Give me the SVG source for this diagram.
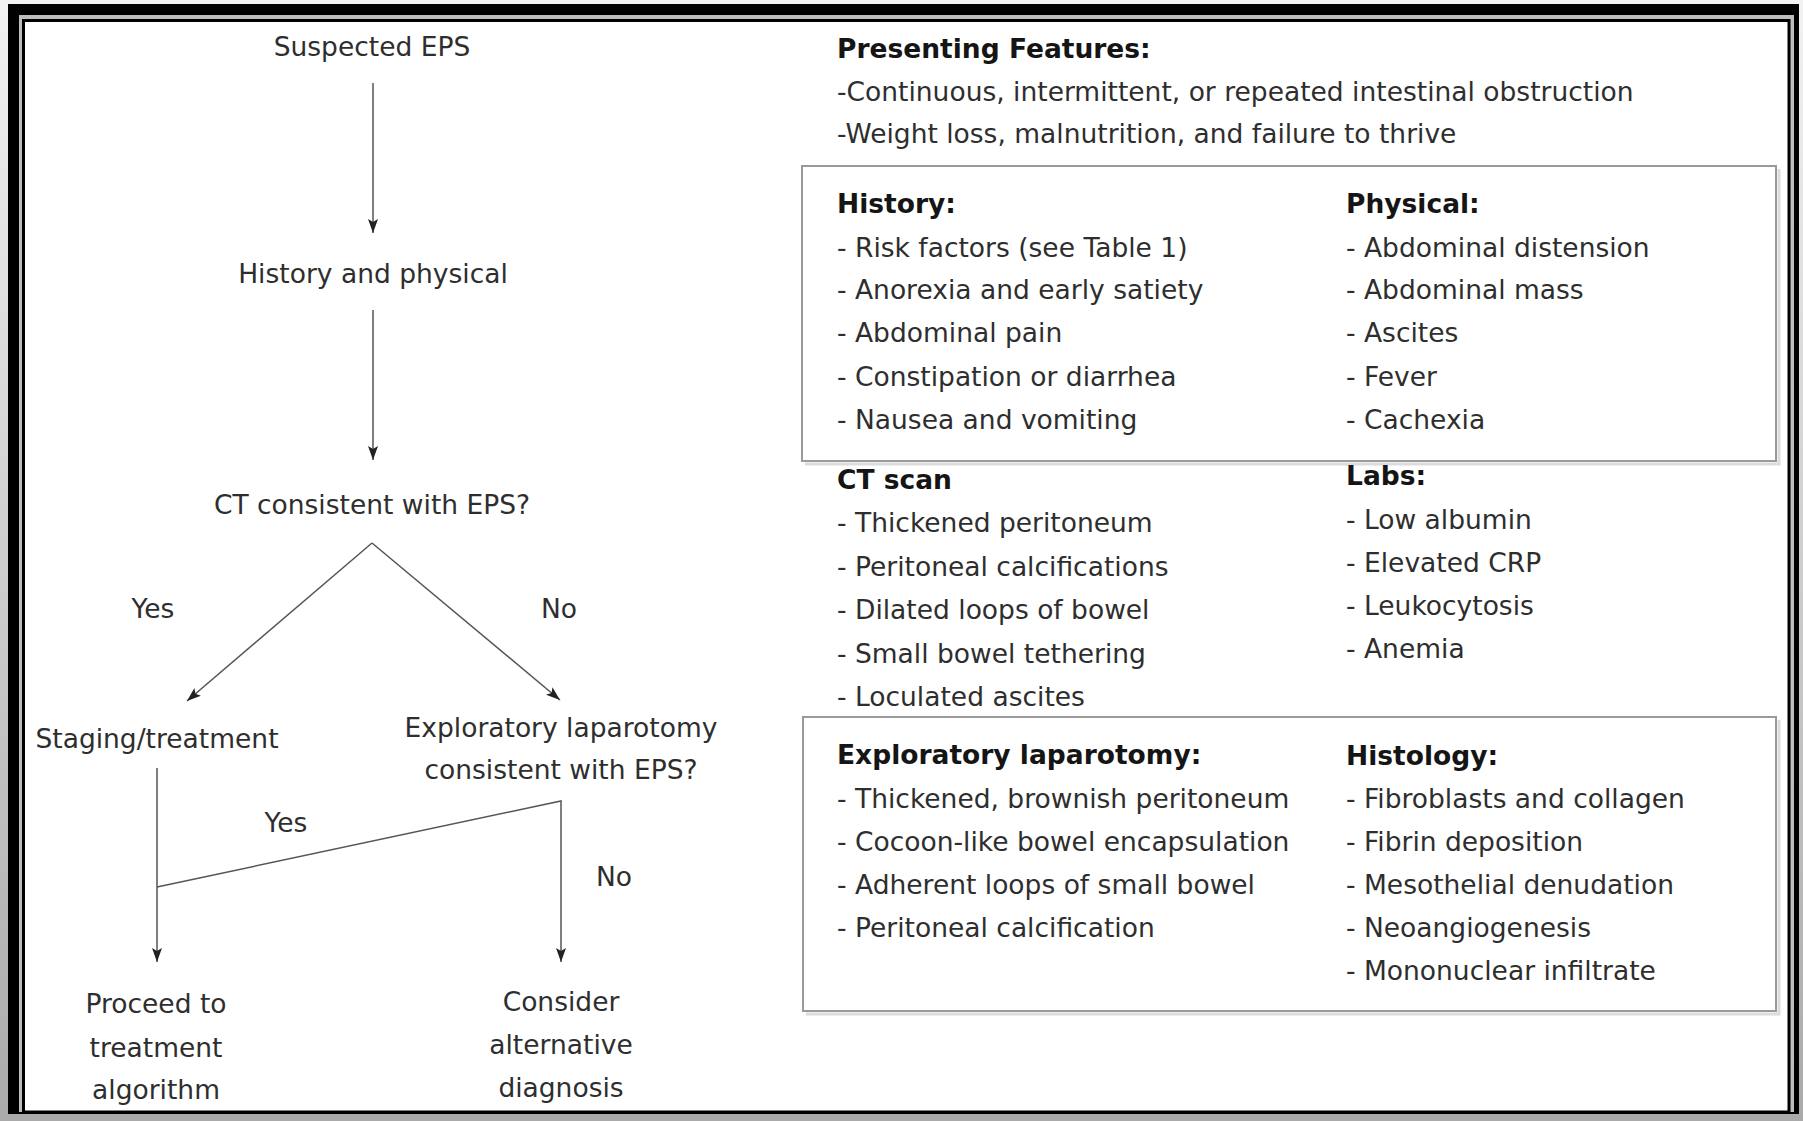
<svg xmlns="http://www.w3.org/2000/svg" width="1803" height="1121" viewBox="0 0 1803 1121">
<defs>
<linearGradient id="bg" x1="0" y1="0" x2="0" y2="1">
<stop offset="0" stop-color="#f2f2f2"/>
<stop offset="1" stop-color="#aaaaaa"/>
</linearGradient>
<marker id="arr" viewBox="0 0 14 10" refX="14" refY="5" markerWidth="14" markerHeight="10" markerUnits="userSpaceOnUse" orient="auto">
<path d="M0,0 L14,5 L0,10 L3,5 z" fill="#222"/>
</marker>
<style>
text{font-family:"DejaVu Sans","Liberation Sans",sans-serif;font-size:26.5px;fill:#2e2e2e}
.b{font-weight:bold;fill:#151515}
.c{text-anchor:middle}
.ln{stroke:#555;stroke-width:1.5;fill:none}
.box{fill:none;stroke:#9a9a9a;stroke-width:2}
.sh{fill:none;stroke:#dcdcdc;stroke-width:3}
</style>
</defs>
<g id="frame">
<rect x="0" y="0" width="1803" height="1121" fill="url(#bg)"/>
<rect x="8" y="4" width="1791" height="1110" fill="#000"/>
<rect x="19" y="15" width="1775" height="1097" fill="#bdbdbd"/>
<rect x="23.5" y="20.5" width="1765.5" height="1091.5" fill="#fff" stroke="#000" stroke-width="3"/>
</g>
<g id="connectors">
<line class="ln" x1="373" y1="83" x2="373" y2="233" marker-end="url(#arr)"/>
<line class="ln" x1="373" y1="310" x2="373" y2="460" marker-end="url(#arr)"/>
<line class="ln" x1="372" y1="543" x2="187" y2="701" marker-end="url(#arr)"/>
<line class="ln" x1="372" y1="543" x2="560" y2="700" marker-end="url(#arr)"/>
<line class="ln" x1="157" y1="768" x2="157" y2="962" marker-end="url(#arr)"/>
<polyline class="ln" points="157,887 561,801 561,962" marker-end="url(#arr)"/>
</g>
<g id="labels">
<text class="c" x="153" y="618">Yes</text>
<text class="c" x="559" y="618">No</text>
<text class="c" x="286" y="832">Yes</text>
<text class="c" x="614" y="886">No</text>
</g>
<g id="n-suspected"><text class="c" x="372" y="56">Suspected EPS</text></g>
<g id="n-history"><text class="c" x="373" y="283">History and physical</text></g>
<g id="n-ct"><text class="c" x="372" y="514">CT consistent with EPS?</text></g>
<g id="n-staging"><text class="c" x="157" y="748">Staging/treatment</text></g>
<g id="n-explap"><text class="c" x="561" y="737">Exploratory laparotomy</text><text class="c" x="561" y="779">consistent with EPS?</text></g>
<g id="n-proceed"><text class="c" x="156" y="1013">Proceed to</text><text class="c" x="156" y="1057">treatment</text><text class="c" x="156" y="1099">algorithm</text></g>
<g id="n-consider"><text class="c" x="561" y="1011">Consider</text><text class="c" x="561" y="1054">alternative</text><text class="c" x="561" y="1097">diagnosis</text></g>
<g id="presenting">
<text class="b" x="837" y="58">Presenting Features:</text>
<text x="837" y="101">-Continuous, intermittent, or repeated intestinal obstruction</text>
<text x="837" y="143">-Weight loss, malnutrition, and failure to thrive</text>
</g>
<g id="box-hp">
<polyline class="sh" points="1779,169 1779,464 805,464"/>
<rect class="box" x="802" y="166" width="974" height="295"/>
<text class="b" x="837" y="213">History:</text>
<text x="837" y="257">- Risk factors (see Table 1)</text>
<text x="837" y="299">- Anorexia and early satiety</text>
<text x="837" y="342">- Abdominal pain</text>
<text x="837" y="386">- Constipation or diarrhea</text>
<text x="837" y="429">- Nausea and vomiting</text>
<text class="b" x="1346" y="213">Physical:</text>
<text x="1346" y="257">- Abdominal distension</text>
<text x="1346" y="299">- Abdominal mass</text>
<text x="1346" y="342">- Ascites</text>
<text x="1346" y="386">- Fever</text>
<text x="1346" y="429">- Cachexia</text>
</g>
<g id="ct-labs">
<text class="b" x="837" y="489">CT scan</text>
<text x="837" y="532">- Thickened peritoneum</text>
<text x="837" y="576">- Peritoneal calcifications</text>
<text x="837" y="619">- Dilated loops of bowel</text>
<text x="837" y="663">- Small bowel tethering</text>
<text x="837" y="706">- Loculated ascites</text>
<text class="b" x="1346" y="485">Labs:</text>
<text x="1346" y="529">- Low albumin</text>
<text x="1346" y="572">- Elevated CRP</text>
<text x="1346" y="615">- Leukocytosis</text>
<text x="1346" y="658">- Anemia</text>
</g>
<g id="box-lap">
<polyline class="sh" points="1779,720 1779,1014 806,1014"/>
<rect class="box" x="803" y="717" width="973" height="294"/>
<text class="b" x="837" y="764">Exploratory laparotomy:</text>
<text x="837" y="808">- Thickened, brownish peritoneum</text>
<text x="837" y="851">- Cocoon-like bowel encapsulation</text>
<text x="837" y="894">- Adherent loops of small bowel</text>
<text x="837" y="937">- Peritoneal calcification</text>
<text class="b" x="1346" y="765">Histology:</text>
<text x="1346" y="808">- Fibroblasts and collagen</text>
<text x="1346" y="851">- Fibrin deposition</text>
<text x="1346" y="894">- Mesothelial denudation</text>
<text x="1346" y="937">- Neoangiogenesis</text>
<text x="1346" y="980">- Mononuclear infiltrate</text>
</g>
</svg>
